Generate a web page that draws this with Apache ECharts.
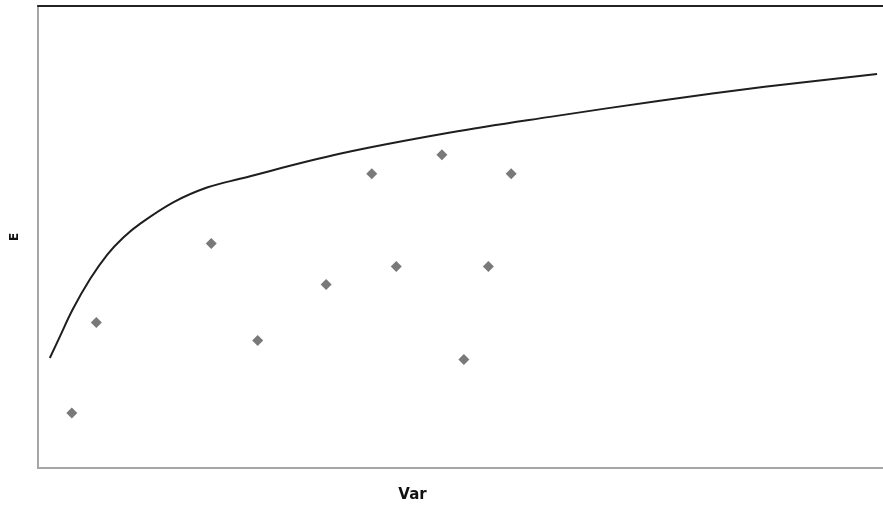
<!DOCTYPE html>
<html>
<head>
<meta charset="utf-8">
<script src="https://cdn.jsdelivr.net/npm/echarts@6/dist/echarts.min.js"></script>
<style>
  html, body { margin: 0; padding: 0; background: #fff; }
  #chart { width: 883px; height: 515px; }
</style>
</head>
<body>
<div id="chart"></div>
<script>
// Efficient frontier (variance vs. expected return), in axis units 0-100
const frontierVar = [1.4, 2.6, 4.1, 6.2, 8.2, 10.1, 12.1, 16.0, 20.0, 23.9, 35.7, 48.8, 60.6, 73.6, 86.0, 99.3];
const frontierE   = [23.8, 28.5, 34.3, 41.0, 46.2, 49.9, 52.9, 57.5, 60.7, 62.6, 68.0, 72.6, 76.0, 79.5, 82.5, 85.3];

// Individual assets
const assetVar = [4.0, 6.9, 20.5, 26.0, 34.1, 39.5, 42.4, 47.8, 50.4, 53.3, 56.0];
const assetE   = [11.9, 31.5, 48.6, 27.6, 39.7, 63.7, 43.6, 67.8, 23.5, 43.6, 63.7];

const frontier = frontierVar.map((v, i) => [v, frontierE[i]]);
const assets = assetVar.map((v, i) => [v, assetE[i]]);

const chart = echarts.init(document.getElementById('chart'), null, { renderer: 'canvas' });

const hidden = { show: false };
chart.setOption({
  animation: false,
  backgroundColor: '#ffffff',
  grid: { left: 38, right: 0, top: 6, bottom: 47, containLabel: false },
  xAxis: [
    {
      type: 'value', min: 0, max: 100, position: 'bottom',
      name: 'Var', nameLocation: 'middle', nameGap: 20,
      nameTextStyle: { fontFamily: 'DejaVu Sans', fontWeight: 'bold', fontSize: 15, color: '#111', padding: [0, 96, 0, 0] },
      axisLine: { show: true, lineStyle: { color: '#a6a6a6', width: 2 } },
      axisTick: hidden, axisLabel: hidden, splitLine: hidden
    },
    {
      type: 'value', min: 0, max: 100, position: 'top',
      axisLine: { show: true, lineStyle: { color: '#222', width: 2 } },
      axisTick: hidden, axisLabel: hidden, splitLine: hidden
    }
  ],
  yAxis: {
    type: 'value', min: 0, max: 100,
    name: 'E', nameLocation: 'middle', nameGap: 17, nameRotate: 90,
    nameTextStyle: { fontFamily: 'DejaVu Sans', fontWeight: 'bold', fontSize: 12, color: '#111' },
    axisLine: { show: true, lineStyle: { color: '#a6a6a6', width: 2 } },
    axisTick: hidden, axisLabel: hidden, splitLine: hidden
  },
  series: [
    {
      type: 'line', data: frontier, smooth: 0.35, showSymbol: false,
      lineStyle: { color: '#1e1e1e', width: 2 }
    },
    {
      type: 'scatter', data: assets, symbol: 'diamond', symbolSize: 11,
      itemStyle: { color: '#585858' }
    }
  ]
});
</script>
</body>
</html>
